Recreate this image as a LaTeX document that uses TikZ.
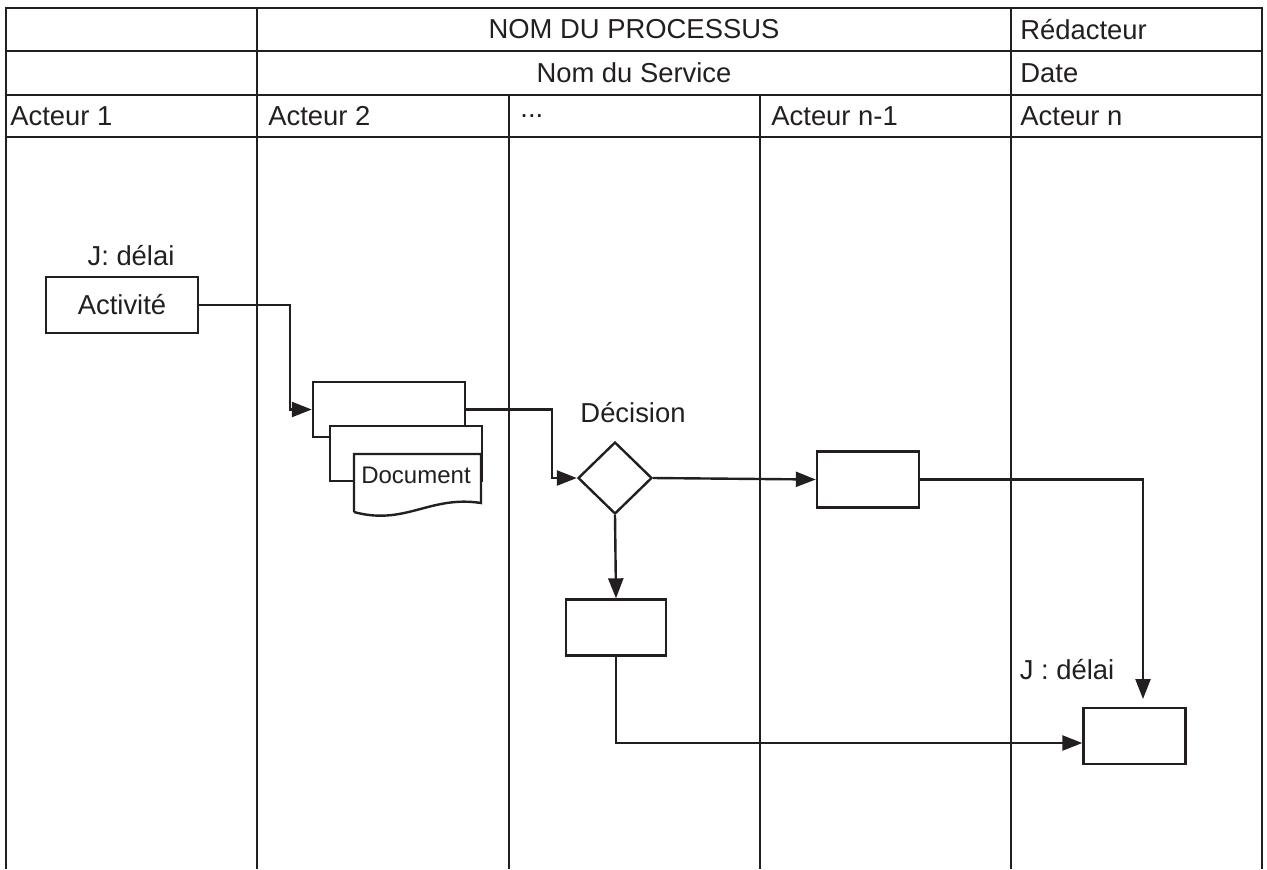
\documentclass[tikz,border=0pt]{standalone}
\usepackage{fontspec}
\setmainfont{Liberation Sans}
\usetikzlibrary{arrows.meta,shapes.geometric}
\definecolor{ink}{HTML}{231F20}

\begin{document}
\begin{tikzpicture}[
  x=0.5pt, y=-0.5pt,
  every node/.style={font=\fontsize{13.7}{16}\selectfont, text=ink},
  grid/.style={draw=ink, line width=1.4pt},
  head/.style={anchor=west, inner sep=0pt},
  box/.style={draw=ink, fill=white, line width=1.2pt, minimum width=#1, minimum height=28pt, inner sep=0pt},
  box/.default=51pt,
  decision/.style={draw=ink, fill=white, line width=1.2pt, diamond, minimum width=37pt, minimum height=36pt, inner sep=0pt},
  flow/.style={draw=ink, line width=1.2pt, -{Triangle[length=10pt,width=7.5pt]}},
  link/.style={draw=ink, line width=1.2pt}
  ]
  \useasboundingbox (0,0) rectangle (1267,869);

  % tableau des acteurs
  \draw[grid] (6,869) -- (6,8) -- (1262,8) -- (1262,869);
  \foreach \y in {51,95,137}
    \draw[grid] (6,\y) -- (1262,\y);
  \foreach \x in {257,1011}
    \draw[grid] (\x,8) -- (\x,869);
  \foreach \x in {509,760}
    \draw[grid] (\x,95) -- (\x,869);

  \node (titre) at (634,29.5) {NOM DU PROCESSUS};
  \node (service) at (634,73) {Nom du Service};
  \node[head] (redac) at (1020,29.5) {Rédacteur};
  \node[head] (date) at (1020,73) {Date};
  \node[head] (acteur1) at (10,116) {Acteur 1};
  \node[head] (acteur2) at (268,116) {Acteur 2};
  \node[head] (acteurx) at (520,116) {...};
  \node[head] (acteurm) at (771,116) {Acteur n-1};
  \node[head] (acteurn) at (1020,116) {Acteur n};

  % activites
  \node[box=76pt] (act) at (122,305) {Activité};
  \node (delai1) at (131,256) {J: délai};

  \node[box=76pt, minimum height=27.5pt] (st1) at (389,409.5) {};
  \node[box=76pt, minimum height=27.5pt] (st2) at (406,453.5) {};
  \filldraw[draw=ink, fill=white, line width=1.2pt]
    (354,512) -- (354,454) -- (481,454) -- (481,503)
    .. controls (430,495) and (405,526) .. (354,512);
  \node[font=\fontsize{12}{14}\selectfont] (doc) at (416,475) {Document};

  \node[decision] (dec) at (615,478) {};
  \node (declbl) at (633,413) {Décision};

  \node[box] (r1) at (868,479.5) {};
  \node[box=50pt] (r2) at (616,627.5) {};
  \node[box] (fin) at (1134.5,736) {};
  \node (delai2) at (1067,670) {J : délai};
  \coordinate (fin-in) at (1143,699);

  % liens
  \draw[flow] (act.east) -- ++(91,0) |- (st1.west);
  \draw[flow] (st1.east) -- ++(86,0) |- (dec.west);
  \draw[flow] (dec.east) -- (r1.west);
  \draw[flow] (dec.south) -- (r2.north);
  \draw[flow] (r1.east) -| (fin-in);
  \draw[flow] (r2.south) |- ([yshift=-3.5pt]fin.west);
\end{tikzpicture}
\end{document}
